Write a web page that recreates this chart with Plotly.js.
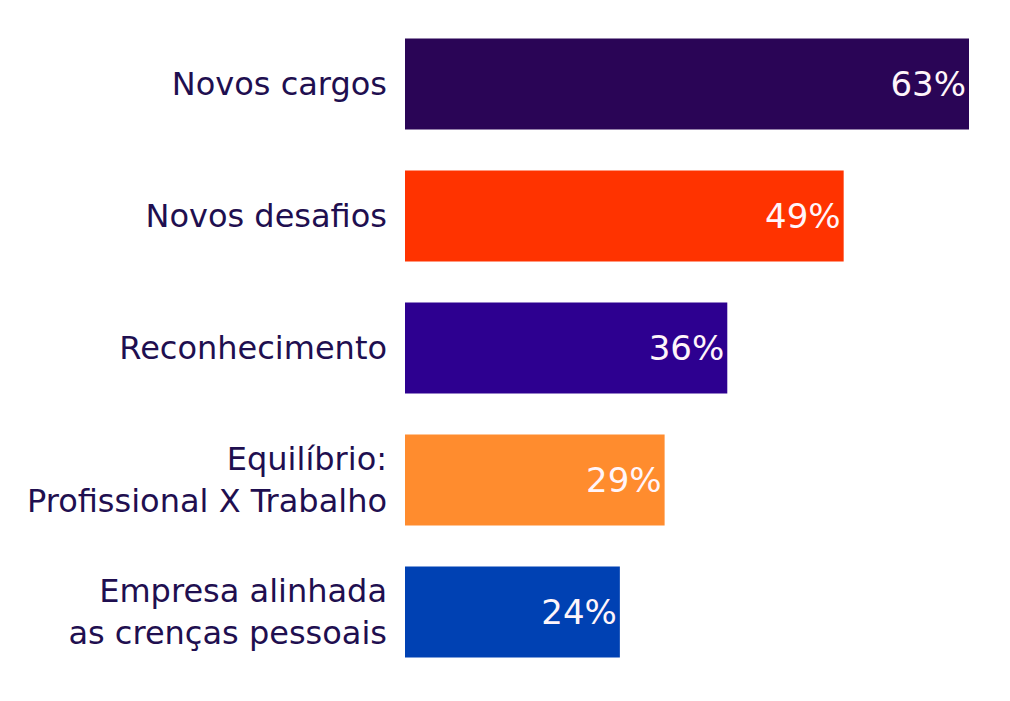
<!DOCTYPE html>
<html>
<head>
<meta charset="utf-8">
<script src="https://cdn.plot.ly/plotly-3.0.1.min.js"></script>
<style>html,body{margin:0;padding:0;background:#fff}#chart{width:1010px;height:701px}</style>
</head>
<body>
<div id="chart"></div>
<script>
const categories = ["Novos cargos", "Novos desafios", "Reconhecimento", "Equilíbrio:<br>Profissional X Trabalho", "Empresa alinhada<br>as crenças pessoais"];
const values = [63, 49, 36, 29, 24];
const valueLabels = ["63%", "49%", "36%", "29%", "24%"];
const barColors = ["#2a0556", "#ff3300", "#2d0090", "#ff8c2e", "#0041b3"];

const trace = {
  type: "bar",
  orientation: "h",
  y: categories,
  x: values,
  text: valueLabels,
  textposition: "inside",
  insidetextanchor: "end",
  textangle: 0,
  textfont: {family: "'DejaVu Sans', sans-serif", size: 34, color: "#fff5fa"},
  marker: {color: barColors, line: {width: 0}},
  width: 0.69,
  hoverinfo: "none",
  cliponaxis: false
};

const layout = {
  width: 1010,
  height: 701,
  margin: {l: 405, r: 41, t: 18, b: 23, pad: 0},
  paper_bgcolor: "#ffffff",
  plot_bgcolor: "#ffffff",
  showlegend: false,
  xaxis: {range: [0, 63], visible: false, fixedrange: true},
  yaxis: {
    autorange: "reversed",
    showgrid: false,
    zeroline: false,
    showline: false,
    ticks: "",
    ticklabelstandoff: 17,
    tickfont: {family: "'DejaVu Sans', sans-serif", size: 32, color: "#1f0f50"},
    fixedrange: true
  },
  font: {family: "'DejaVu Sans', sans-serif"}
};

Plotly.newPlot("chart", [trace], layout, {displayModeBar: false, staticPlot: true});
</script>
</body>
</html>
